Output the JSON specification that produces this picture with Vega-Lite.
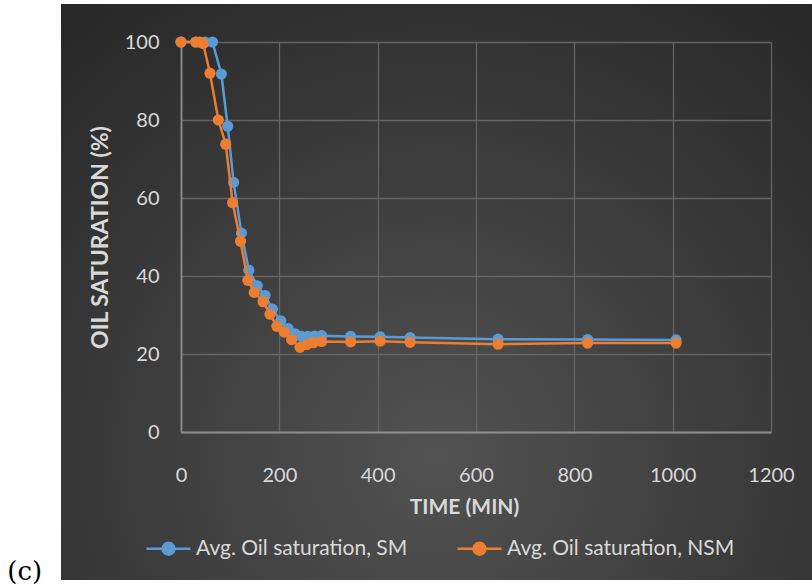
{
  "$schema": "https://vega.github.io/schema/vega-lite/v6.json",
  "width": 751,
  "height": 576,
  "autosize": {"type": "none"},
  "padding": {"left": 61, "top": 4, "right": 0, "bottom": 8},
  "background": "#ffffff",
  "title": {"text": "(c)", "orient": "left", "anchor": "start", "angle": 0, "align": "right", "baseline": "alphabetic", "frame": "group", "offset": -16, "font": "DejaVu Serif", "fontSize": 26, "fontWeight": "normal", "color": "#000000"},
  "config": {
    "view": {"stroke": null, "fill": {"gradient": "radial", "x1": 0.5, "y1": 0.72, "r1": 0, "x2": 0.5, "y2": 0.72, "r2": 0.8, "stops": [{"offset": 0, "color": "#525252"}, {"offset": 1, "color": "#262626"}]}},
    "font": "Lato",
    "axis": {"labelFont": "Lato", "labelFontSize": 20, "labelColor": "#d9d9d9", "titleFont": "Lato", "titleFontSize": 21, "titleFontWeight": "bold", "titleColor": "#d9d9d9", "ticks": false, "tickSize": 0, "gridColor": "#646464", "gridWidth": 1.3, "domainColor": "#8c8c8c", "domainWidth": 1.8, "labelOverlap": false, "labelFlush": false, "format": "d"}
  },
  "data": {"values": [
    {"series": "Avg. Oil saturation, SM", "time": 0, "so": 100},
    {"series": "Avg. Oil saturation, SM", "time": 30, "so": 100},
    {"series": "Avg. Oil saturation, SM", "time": 49, "so": 100},
    {"series": "Avg. Oil saturation, SM", "time": 64, "so": 100},
    {"series": "Avg. Oil saturation, SM", "time": 82, "so": 91.8},
    {"series": "Avg. Oil saturation, SM", "time": 95, "so": 78.4},
    {"series": "Avg. Oil saturation, SM", "time": 107, "so": 64},
    {"series": "Avg. Oil saturation, SM", "time": 123, "so": 51},
    {"series": "Avg. Oil saturation, SM", "time": 138, "so": 41.5},
    {"series": "Avg. Oil saturation, SM", "time": 155, "so": 37.5},
    {"series": "Avg. Oil saturation, SM", "time": 171, "so": 35},
    {"series": "Avg. Oil saturation, SM", "time": 186, "so": 31.5},
    {"series": "Avg. Oil saturation, SM", "time": 203, "so": 28.5},
    {"series": "Avg. Oil saturation, SM", "time": 218, "so": 26.5},
    {"series": "Avg. Oil saturation, SM", "time": 232, "so": 25.2},
    {"series": "Avg. Oil saturation, SM", "time": 245, "so": 24.5},
    {"series": "Avg. Oil saturation, SM", "time": 258, "so": 24.5},
    {"series": "Avg. Oil saturation, SM", "time": 272, "so": 24.6},
    {"series": "Avg. Oil saturation, SM", "time": 286, "so": 24.7},
    {"series": "Avg. Oil saturation, SM", "time": 345, "so": 24.5},
    {"series": "Avg. Oil saturation, SM", "time": 405, "so": 24.4},
    {"series": "Avg. Oil saturation, SM", "time": 466, "so": 24.2},
    {"series": "Avg. Oil saturation, SM", "time": 645, "so": 23.8},
    {"series": "Avg. Oil saturation, SM", "time": 827, "so": 23.7},
    {"series": "Avg. Oil saturation, SM", "time": 1007, "so": 23.6},
    {"series": "Avg. Oil saturation, NSM", "time": 0, "so": 100},
    {"series": "Avg. Oil saturation, NSM", "time": 30, "so": 100},
    {"series": "Avg. Oil saturation, NSM", "time": 38, "so": 100},
    {"series": "Avg. Oil saturation, NSM", "time": 45, "so": 99.6},
    {"series": "Avg. Oil saturation, NSM", "time": 59, "so": 92},
    {"series": "Avg. Oil saturation, NSM", "time": 76, "so": 80},
    {"series": "Avg. Oil saturation, NSM", "time": 91, "so": 73.8},
    {"series": "Avg. Oil saturation, NSM", "time": 105, "so": 58.8},
    {"series": "Avg. Oil saturation, NSM", "time": 121, "so": 48.9},
    {"series": "Avg. Oil saturation, NSM", "time": 136, "so": 38.9},
    {"series": "Avg. Oil saturation, NSM", "time": 149, "so": 35.8},
    {"series": "Avg. Oil saturation, NSM", "time": 167, "so": 33.4},
    {"series": "Avg. Oil saturation, NSM", "time": 181, "so": 30.2},
    {"series": "Avg. Oil saturation, NSM", "time": 195, "so": 27.1},
    {"series": "Avg. Oil saturation, NSM", "time": 210, "so": 25.6},
    {"series": "Avg. Oil saturation, NSM", "time": 225, "so": 23.7},
    {"series": "Avg. Oil saturation, NSM", "time": 242, "so": 21.7},
    {"series": "Avg. Oil saturation, NSM", "time": 256, "so": 22.4},
    {"series": "Avg. Oil saturation, NSM", "time": 269, "so": 22.9},
    {"series": "Avg. Oil saturation, NSM", "time": 286, "so": 23.2},
    {"series": "Avg. Oil saturation, NSM", "time": 345, "so": 23.1},
    {"series": "Avg. Oil saturation, NSM", "time": 405, "so": 23.3},
    {"series": "Avg. Oil saturation, NSM", "time": 466, "so": 23},
    {"series": "Avg. Oil saturation, NSM", "time": 645, "so": 22.5},
    {"series": "Avg. Oil saturation, NSM", "time": 827, "so": 22.8},
    {"series": "Avg. Oil saturation, NSM", "time": 1007, "so": 22.8}
  ]},
  "layer": [
    {
      "transform": [{"filter": "datum.series === 'Avg. Oil saturation, SM'"}],
      "mark": {"type": "line", "strokeWidth": 2.5, "point": {"filled": true, "size": 125, "opacity": 1}},
      "encoding": {
        "x": {"field": "time", "type": "quantitative", "scale": {"domain": [0, 1200], "range": [120, 710], "nice": false, "zero": false},
              "axis": {"orient": "top", "offset": 0, "grid": true, "labels": false, "domain": false, "ticks": false, "title": null, "values": [0, 200, 400, 600, 800, 1000, 1200]}},
        "y": {"field": "so", "type": "quantitative", "scale": {"domain": [0, 100], "range": [428, 38], "nice": false, "zero": false},
              "axis": {"orient": "left", "offset": -120, "grid": true, "values": [0, 20, 40, 60, 80, 100], "labelPadding": 22, "title": "OIL SATURATION (%)", "titleFontSize": 23, "titleX": -81, "titleBaseline": "middle", "titleAngle": -90}},
        "color": {"field": "series", "type": "nominal", "scale": {"domain": ["Avg. Oil saturation, SM", "Avg. Oil saturation, NSM"], "range": ["#5B9BD5", "#ED7D31"]},
                  "legend": {"orient": "none", "legendX": 84, "legendY": 521, "direction": "horizontal", "title": null, "symbolType": "M-1,0H1M0.27,0A0.27,0.27,0,1,1,-0.27,0A0.27,0.27,0,1,1,0.27,0Z", "symbolSize": 1936, "symbolStrokeWidth": 2.5, "labelFont": "Lato", "labelFontSize": 21, "labelColor": "#d9d9d9", "labelOffset": 4, "columnPadding": 44, "padding": 0, "labelLimit": 400,
                             "encode": {"symbols": {"update": {"fill": {"scale": "color", "field": "value"}, "stroke": {"scale": "color", "field": "value"}}}}}}
      }
    },
    {
      "transform": [{"filter": "datum.series === 'Avg. Oil saturation, NSM'"}],
      "mark": {"type": "line", "strokeWidth": 2.5, "point": {"filled": true, "size": 125, "opacity": 1}},
      "encoding": {
        "x": {"field": "time", "type": "quantitative", "scale": {"domain": [0, 1200], "range": [120, 710], "nice": false, "zero": false},
              "axis": {"orient": "bottom", "offset": -148, "grid": false, "values": [0, 200, 400, 600, 800, 1000, 1200], "labelPadding": 33, "title": "TIME (MIN)", "titleX": 403, "titleY": 75, "titleBaseline": "middle", "titleAlign": "center"}},
        "y": {"field": "so", "type": "quantitative", "scale": {"domain": [0, 100], "range": [428, 38], "nice": false, "zero": false}},
        "color": {"field": "series", "type": "nominal", "scale": {"domain": ["Avg. Oil saturation, SM", "Avg. Oil saturation, NSM"], "range": ["#5B9BD5", "#ED7D31"]},
                  "legend": {"orient": "none", "legendX": 84, "legendY": 521, "direction": "horizontal", "title": null, "symbolType": "M-1,0H1M0.27,0A0.27,0.27,0,1,1,-0.27,0A0.27,0.27,0,1,1,0.27,0Z", "symbolSize": 1936, "symbolStrokeWidth": 2.5, "labelFont": "Lato", "labelFontSize": 21, "labelColor": "#d9d9d9", "labelOffset": 4, "columnPadding": 44, "padding": 0, "labelLimit": 400,
                             "encode": {"symbols": {"update": {"fill": {"scale": "color", "field": "value"}, "stroke": {"scale": "color", "field": "value"}}}}}}
      }
    }
  ],
  "resolve": {"axis": {"x": "independent"}}
}
